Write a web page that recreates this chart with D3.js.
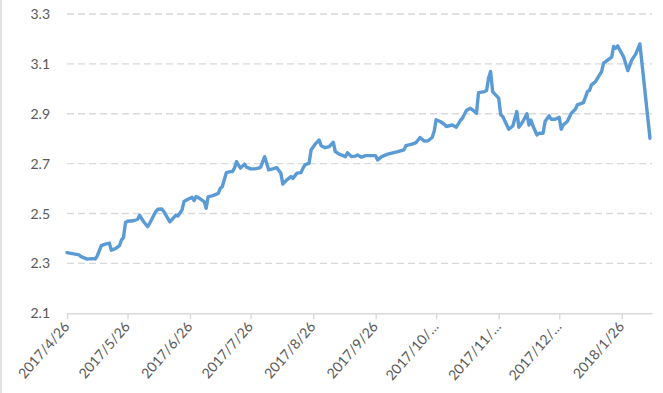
<!DOCTYPE html>
<html>
<head>
<meta charset="utf-8">
<script src="https://cdn.jsdelivr.net/npm/d3@7/dist/d3.min.js"></script>
<style>
  html, body { margin: 0; padding: 0; background: #fff; }
  svg { display: block; }
  text { font-family: Lato, "Liberation Sans", sans-serif; fill: #595959; }
</style>
</head>
<body>
<svg id="chart" width="663" height="393"></svg>
<script>
const dates = ["2017/4/26","2017/4/28","2017/5/2","2017/5/3","2017/5/6","2017/5/8","2017/5/10","2017/5/11","2017/5/13","2017/5/15","2017/5/17","2017/5/18","2017/5/20","2017/5/22","2017/5/23","2017/5/24","2017/5/25","2017/5/26","2017/5/29","2017/5/31","2017/6/1","2017/6/3","2017/6/5","2017/6/6","2017/6/9","2017/6/10","2017/6/12","2017/6/13","2017/6/16","2017/6/18","2017/6/19","2017/6/20","2017/6/22","2017/6/23","2017/6/25","2017/6/27","2017/6/28","2017/6/29","2017/7/1","2017/7/3","2017/7/4","2017/7/5","2017/7/7","2017/7/10","2017/7/11","2017/7/12","2017/7/14","2017/7/16","2017/7/17","2017/7/18","2017/7/19","2017/7/21","2017/7/23","2017/7/24","2017/7/26","2017/7/28","2017/7/30","2017/7/31","2017/8/2","2017/8/4","2017/8/6","2017/8/8","2017/8/10","2017/8/11","2017/8/13","2017/8/15","2017/8/16","2017/8/18","2017/8/20","2017/8/21","2017/8/22","2017/8/24","2017/8/25","2017/8/27","2017/8/29","2017/8/30","2017/9/1","2017/9/3","2017/9/5","2017/9/6","2017/9/8","2017/9/11","2017/9/12","2017/9/14","2017/9/16","2017/9/17","2017/9/19","2017/9/21","2017/9/23","2017/9/26","2017/9/27","2017/9/29","2017/10/2","2017/10/7","2017/10/10","2017/10/11","2017/10/14","2017/10/16","2017/10/18","2017/10/20","2017/10/22","2017/10/24","2017/10/25","2017/10/26","2017/10/28","2017/10/30","2017/10/31","2017/11/3","2017/11/5","2017/11/7","2017/11/8","2017/11/10","2017/11/12","2017/11/13","2017/11/15","2017/11/16","2017/11/19","2017/11/20","2017/11/21","2017/11/22","2017/11/23","2017/11/24","2017/11/26","2017/11/27","2017/11/28","2017/12/1","2017/12/3","2017/12/5","2017/12/6","2017/12/8","2017/12/10","2017/12/11","2017/12/12","2017/12/13","2017/12/15","2017/12/16","2017/12/18","2017/12/19","2017/12/21","2017/12/22","2017/12/24","2017/12/26","2017/12/27","2017/12/28","2017/12/30","2018/1/1","2018/1/3","2018/1/4","2018/1/7","2018/1/9","2018/1/10","2018/1/11","2018/1/13","2018/1/14","2018/1/16","2018/1/17","2018/1/18","2018/1/21","2018/1/22","2018/1/23","2018/1/24","2018/1/25","2018/1/27","2018/1/29","2018/1/31","2018/2/2","2018/2/4","2018/2/9"];

const values = [2.343,2.340,2.334,2.327,2.317,2.319,2.318,2.330,2.371,2.377,2.381,2.353,2.359,2.371,2.394,2.403,2.464,2.469,2.471,2.477,2.493,2.467,2.447,2.461,2.508,2.517,2.518,2.508,2.467,2.485,2.494,2.490,2.514,2.548,2.557,2.565,2.552,2.568,2.559,2.548,2.521,2.568,2.571,2.581,2.601,2.608,2.664,2.668,2.668,2.682,2.708,2.682,2.698,2.686,2.679,2.679,2.682,2.686,2.728,2.675,2.679,2.684,2.662,2.618,2.635,2.648,2.641,2.662,2.664,2.682,2.695,2.702,2.755,2.778,2.795,2.772,2.764,2.768,2.786,2.748,2.738,2.728,2.744,2.728,2.730,2.735,2.726,2.732,2.732,2.732,2.715,2.728,2.738,2.748,2.755,2.772,2.778,2.784,2.805,2.791,2.792,2.805,2.829,2.876,2.869,2.858,2.849,2.855,2.846,2.873,2.882,2.913,2.922,2.916,2.902,2.985,2.989,2.993,3.043,3.069,2.989,2.980,2.963,2.896,2.889,2.838,2.851,2.909,2.846,2.869,2.900,2.855,2.875,2.851,2.815,2.822,2.822,2.869,2.892,2.878,2.878,2.886,2.838,2.855,2.869,2.902,2.918,2.936,2.945,2.989,2.993,3.016,3.029,3.043,3.069,3.103,3.109,3.127,3.170,3.163,3.172,3.156,3.127,3.073,3.116,3.140,3.180,2.802];

const yTicks = [2.1, 2.3, 2.5, 2.7, 2.9, 3.1, 3.3];
const xTickDates = ["2017/4/26","2017/5/26","2017/6/26","2017/7/26","2017/8/26","2017/9/26","2017/10/26","2017/11/26","2017/12/26","2018/1/26"];
const xTickLabels = ["2017/4/26","2017/5/26","2017/6/26","2017/7/26","2017/8/26","2017/9/26","2017/10/…","2017/11/…","2017/12/…","2018/1/26"];
const xDomain = ["2017/4/26","2018/2/10"];

const parse = d3.timeParse("%Y/%m/%d");
const svg = d3.select("#chart");

const mLeft = 67, mRight = 652, mTop = 14, mBottom = 313.3;
const x = d3.scaleTime().domain(xDomain.map(parse)).range([mLeft, mRight]);
const y = d3.scaleLinear().domain([2.1, 3.3]).range([mBottom, mTop]);

// outer left border
svg.append("line").attr("x1", 1).attr("x2", 1).attr("y1", 0).attr("y2", 393)
  .attr("stroke", "#d9d9d9").attr("stroke-width", 1.5);

// gridlines (dashed), excluding baseline
svg.append("g")
  .selectAll("line")
  .data(yTicks.filter(v => v !== 2.1))
  .join("line")
  .attr("x1", mLeft).attr("x2", mRight)
  .attr("y1", d => y(d)).attr("y2", d => y(d))
  .attr("stroke", "#d9d9d9").attr("stroke-width", 1.4)
  .attr("stroke-dasharray", "7,4");

// y labels
const yAxis = d3.axisLeft(y).tickValues(yTicks).tickFormat(d3.format(".1f")).tickSize(0).tickPadding(0);
const gy = svg.append("g").attr("transform", `translate(${mLeft - 17},0)`).call(yAxis);
gy.select(".domain").remove();
gy.selectAll("text").attr("font-size", 14).attr("fill", "#595959")
  .style("font-family", 'Lato, "Liberation Sans", sans-serif');

// x axis
const tickMap = new Map(xTickDates.map((d, i) => [+parse(d), xTickLabels[i]]));
const xAxis = d3.axisBottom(x)
  .tickValues(xTickDates.map(parse))
  .tickFormat(d => tickMap.get(+d))
  .tickSize(6).tickSizeOuter(0).tickPadding(4);
const gx = svg.append("g").attr("transform", `translate(0,${mBottom})`).call(xAxis);
gx.select(".domain").attr("stroke", "#d9d9d9").attr("stroke-width", 1.4);
gx.selectAll(".tick line").attr("stroke", "#d9d9d9").attr("stroke-width", 1.4);
gx.selectAll("text")
  .attr("font-size", 14).attr("fill", "#595959")
  .style("font-family", 'Lato, "Liberation Sans", sans-serif')
  .attr("text-anchor", "end")
  .attr("dy", "0.35em")
  .attr("transform", "translate(3,6) rotate(-49)")
  .attr("y", 0).attr("x", -6);

// line
const n = Math.min(dates.length, values.length);
const data = d3.range(n).map(i => ({ d: parse(dates[i]), v: values[i] }));
svg.append("path")
  .datum(data)
  .attr("fill", "none")
  .attr("stroke", "#5b9bd5")
  .attr("stroke-width", 3.4)
  .attr("stroke-linejoin", "round")
  .attr("stroke-linecap", "round")
  .attr("d", d3.line().x(p => x(p.d)).y(p => y(p.v)));
</script>
</body>
</html>
